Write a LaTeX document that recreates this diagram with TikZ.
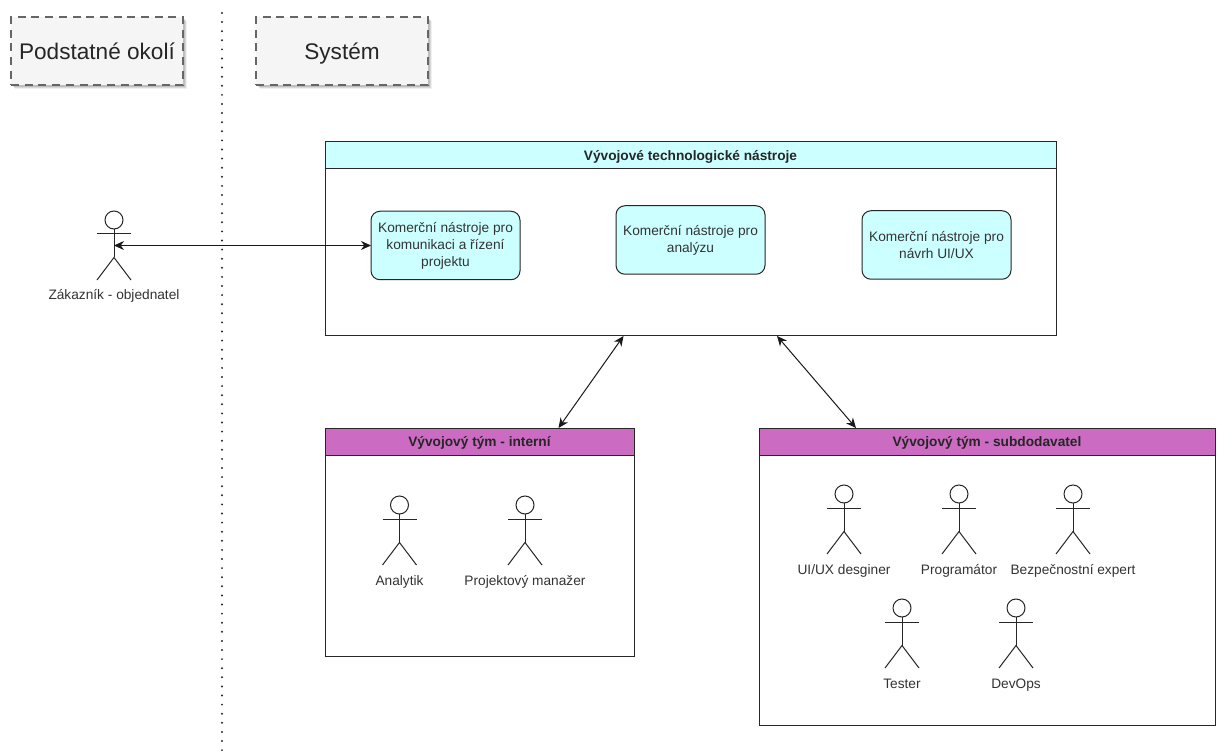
\documentclass[tikz,border=0pt]{standalone}
\usepackage{fontspec}
\setmainfont{Liberation Sans}
\usetikzlibrary{arrows.meta,calc}
\definecolor{toolfill}{HTML}{CCFFFF}
\definecolor{teamfill}{HTML}{CC6BC2}
\definecolor{notefill}{HTML}{F5F5F5}
\definecolor{notedraw}{HTML}{666666}
\definecolor{labelcol}{HTML}{333333}
\tikzset{
  base/.style={inner sep=0pt,outer sep=0pt,font=\fontsize{13.7}{17}\selectfont,text=labelcol,align=center},
  notebox/.style={base,draw=notedraw,line width=1.5pt,dash pattern=on 8pt off 5.7pt,fill=notefill,minimum width=172pt,minimum height=68pt,font=\fontsize{22.6}{26}\selectfont,text=black!85,text height=18pt,text depth=0pt},
  container/.style={base,draw=black!85,line width=1pt,fill=white,anchor=north west},
  header/.style={base,draw=black!85,line width=1pt,anchor=north west,minimum height=27pt,font=\fontsize{13.7}{16}\selectfont\bfseries,text=black!85,text height=11pt,text depth=1pt},
  toolbox/.style={base,draw=black!85,line width=1pt,fill=toolfill,rounded corners=9pt,minimum width=149pt,minimum height=68.5pt,execute at begin node=\rule{0pt}{12.5pt}},
  actorbox/.style={inner sep=0pt,outer sep=0pt,minimum width=34pt,minimum height=69pt,anchor=north},
  actorline/.style={draw=black!85,line width=1pt},
  actorlabel/.style={base,anchor=center,text height=10pt,text depth=0pt},
  biarrow/.style={draw=black!90,line width=1pt,{Stealth[length=10pt,width=9pt]}-{Stealth[length=10pt,width=9pt]},shorten <=0pt,shorten >=0pt},
  divider/.style={draw=black!85,line width=2.2pt,line cap=round,dash pattern=on 0pt off 9.1pt}
}
% name, x of body, y of head top, label
\newcommand{\actorfig}[4]{%
  \node[actorbox] (#1) at (#2,#3) {};
  \draw[actorline] ($(#1.north)+(0,9)$) circle[radius=9pt];
  \draw[actorline] ($(#1.north)+(0,18)$) -- ($(#1.north)+(0,46.5)$);
  \draw[actorline] ($(#1.north)+(-17,23)$) -- ($(#1.north)+(17,23)$);
  \draw[actorline] ($(#1.south west)$) -- ($(#1.north)+(0,46.5)$) -- ($(#1.south east)$);
  \node[actorlabel] (#1-label) at ($(#1.south)+(0,15)$) {#4};
}
\begin{document}
\begin{tikzpicture}[x=1pt,y=-1pt]
\useasboundingbox (0,0) rectangle (1221,751);
% shadows
\foreach \s/\o in {4/0.06,3/0.1,2/0.12}{
  \fill[black,opacity=\o] (11+\s,17+\s) rectangle (183+\s,85+\s);
  \fill[black,opacity=\o] (256+\s,17+\s) rectangle (428+\s,85+\s);
}
\node[notebox] (env) at (97,51) {Podstatné okolí};
\node[notebox] (sys) at (342,51) {Systém};
\coordinate (divtop) at (222,13);
\coordinate (divbot) at (222,751);
\draw[divider] (divtop) -- (divbot);
% tools
\node[container,minimum width=731pt,minimum height=194pt] (tools) at (325,142) {};
\node[header,fill=toolfill,minimum width=731pt] (toolshead) at (325,142) {Vývojové technologické nástroje};
\node[toolbox] (t1) at (445.5,245.5) {Komerční nástroje pro\\komunikaci a řízení\\projektu};
\node[toolbox] (t2) at (690.5,240) {Komerční nástroje pro\\analýzu};
\node[toolbox] (t3) at (936.5,245) {Komerční nástroje pro\\návrh UI/UX};
% teams
\node[container,minimum width=309pt,minimum height=228pt] (int) at (325,428) {};
\node[header,fill=teamfill,minimum width=309pt] (inthead) at (325,428) {Vývojový tým - interní};
\node[container,minimum width=456pt,minimum height=297pt] (sub) at (759,428) {};
\node[header,fill=teamfill,minimum width=456pt] (subhead) at (759,428) {Vývojový tým - subdodavatel};
% actors
\actorfig{cust}{114}{211}{Zákazník - objednatel}
\actorfig{ana}{399.5}{496}{Analytik}
\actorfig{pm}{525}{496}{Projektový manažer}
\actorfig{ux}{844}{485}{UI/UX desginer}
\actorfig{prog}{959}{485}{Programátor}
\actorfig{sec}{1073}{485}{Bezpečnostní expert}
\actorfig{test}{902}{599}{Tester}
\actorfig{dev}{1016}{599}{DevOps}
% connectors
\draw[biarrow] (cust.center) -- (t1.west);
\draw[biarrow] ([xshift=-67pt]tools.south) -- ([xshift=79pt]inthead.north);
\draw[biarrow] ([xshift=86.5pt]tools.south) -- ([xshift=-131pt]subhead.north);
\end{tikzpicture}
\end{document}
